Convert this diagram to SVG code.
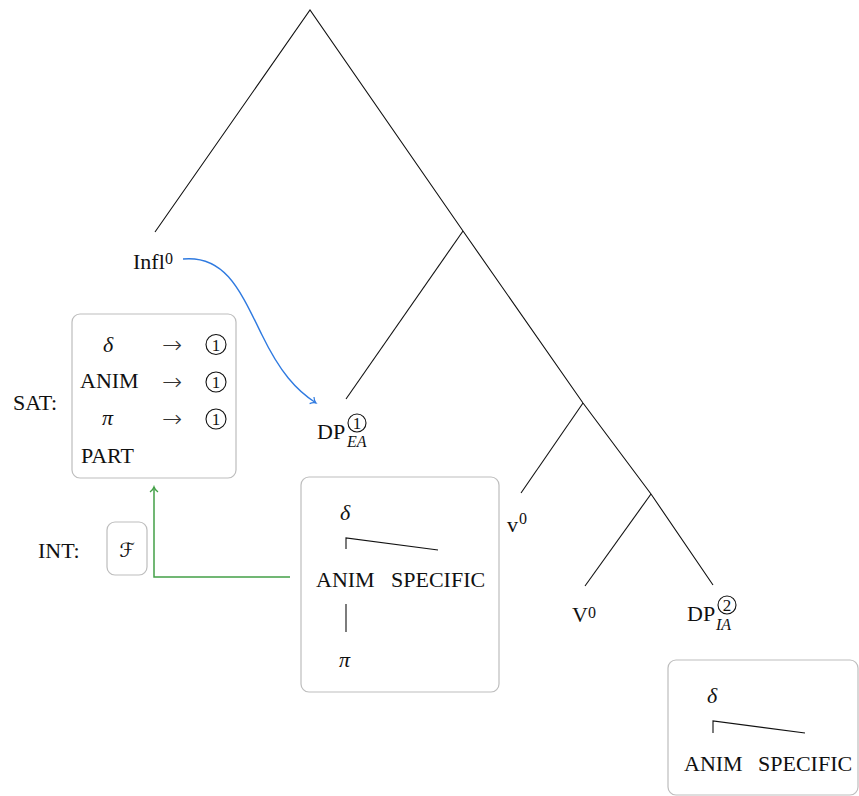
<svg xmlns="http://www.w3.org/2000/svg" width="859" height="796" viewBox="0 0 859 796">
<style>
text{font-family:"Liberation Serif","DejaVu Serif",serif;font-size:22px;fill:#111}
.sup{font-size:16px}
.it{font-style:italic}
.sub{font-size:16px;font-style:italic}
.circ{fill:none;stroke:#111;stroke-width:1.1}
.cn{font-size:17px;text-anchor:middle}
.arr{font-family:"DejaVu Sans","DejaVu Serif",serif;font-size:24px;font-weight:200;fill:#333}
.box{fill:#fff;stroke:#bdbdbd;stroke-width:1.2}
.tl{stroke:#111;stroke-width:1.1;fill:none}
</style>
<defs>
<marker id="ab" markerWidth="10" markerHeight="10" refX="8" refY="5" orient="auto" markerUnits="userSpaceOnUse">
<path d="M3,1 Q5,4 8,5 Q5,6 3,9" fill="none" stroke="#2f7ae0" stroke-width="1.2"/>
</marker>
<marker id="ag" markerWidth="10" markerHeight="10" refX="8" refY="5" orient="auto" markerUnits="userSpaceOnUse">
<path d="M3,1 Q5,4 8,5 Q5,6 3,9" fill="none" stroke="#43a047" stroke-width="1.4"/>
</marker>
</defs>
<rect width="859" height="796" fill="#fff"/>

<g id="connectors">
<path class="tl" d="M155,232 L310,10 L463,231 L583,403 L651,494 L713,585"/>
<path class="tl" d="M463,231 L346,399"/>
<path class="tl" d="M583,403 L521,493"/>
<path class="tl" d="M651,494 L585,586"/>
<path d="M183,259 C225,255 240,290 262,335 C280,372 296,390 316,403" fill="none" stroke="#2f7ae0" stroke-width="1.4" marker-end="url(#ab)"/>
<path d="M290,577 L154,577 L154,487" fill="none" stroke="#43a047" stroke-width="1.5" marker-end="url(#ag)"/>
</g>

<g id="infl">
<text x="133" y="269">Infl</text><text class="sup" x="165" y="264">0</text>
</g>

<g id="dp-ea">
<text x="317" y="439">DP</text>
<circle class="circ" cx="357" cy="423" r="9"/><text class="cn" x="357" y="429">1</text>
<text class="sub" x="347" y="447">EA</text>
</g>

<g id="v-small">
<text x="507" y="532">v</text><text class="sup" x="519" y="524">0</text>
</g>

<g id="V-big">
<text x="572" y="622">V</text><text class="sup" x="588" y="618">0</text>
</g>

<g id="dp-ia">
<text x="687" y="621">DP</text>
<circle class="circ" cx="727" cy="605" r="9"/><text class="cn" x="727" y="611">2</text>
<text class="sub" x="716" y="630">IA</text>
</g>

<g id="sat">
<text x="13" y="410">SAT:</text>
<rect class="box" x="72" y="314" width="164" height="164" rx="8"/>
<text class="it" x="103" y="352">δ</text>
<text class="arr" x="162" y="353">→</text>
<circle class="circ" cx="216" cy="344.5" r="10"/><text class="cn" x="216" y="350.5">1</text>
<text x="80" y="388">ANIM</text>
<text class="arr" x="162" y="390">→</text>
<circle class="circ" cx="216" cy="382" r="10"/><text class="cn" x="216" y="388">1</text>
<text class="it" x="102" y="425">π</text>
<text class="arr" x="162" y="427">→</text>
<circle class="circ" cx="216" cy="419" r="10"/><text class="cn" x="216" y="425">1</text>
<text x="81" y="463">PART</text>
</g>

<g id="int">
<text x="38" y="558">INT:</text>
<rect class="box" x="107" y="522" width="40" height="53" rx="8"/>
<text x="127" y="557" style="font-family:'DejaVu Serif','DejaVu Sans',serif;font-size:20px;font-style:italic;text-anchor:middle">ℱ</text>
</g>

<g id="feat-ea">
<rect class="box" x="301" y="477" width="198" height="215" rx="8"/>
<text class="it" x="340" y="520">δ</text>
<path class="tl" d="M346,549 L346,538 L438,550"/>
<text x="316" y="587">ANIM</text>
<text x="391" y="587">SPECIFIC</text>
<path class="tl" d="M346,604 L346,632"/>
<text class="it" x="339" y="667">π</text>
</g>

<g id="feat-ia">
<rect class="box" x="668" y="660" width="190" height="135" rx="8"/>
<text class="it" x="707" y="703">δ</text>
<path class="tl" d="M713,733 L713,721 L805,733"/>
<text x="684" y="771">ANIM</text>
<text x="758" y="771">SPECIFIC</text>
</g>
</svg>
